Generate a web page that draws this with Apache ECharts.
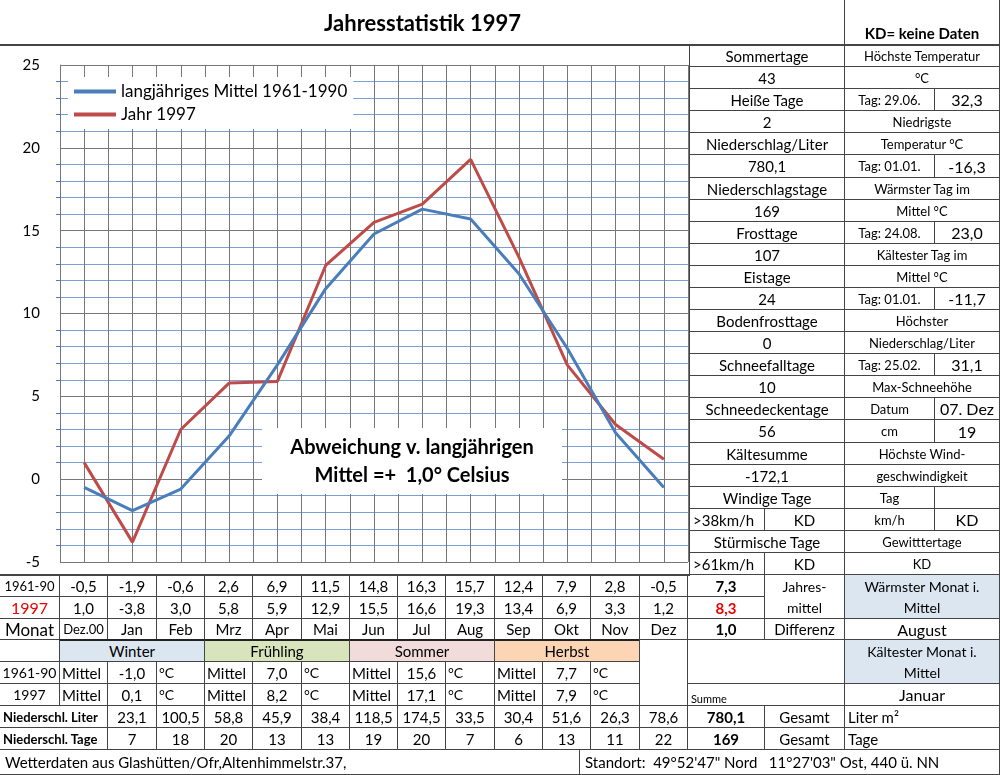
<!DOCTYPE html>
<html><head><meta charset="utf-8">
<script src="https://cdn.jsdelivr.net/npm/echarts@6/dist/echarts.min.js"></script>
<style>
body{margin:0;width:1000px;height:775px;position:relative;font-family:Lato,"Open Sans",sans-serif;background:#fff;overflow:hidden}
.c{position:absolute;box-sizing:border-box;border:1px solid #444;display:flex;align-items:center;justify-content:center;font-size:15px;color:#000;white-space:nowrap;overflow:hidden;margin:-1px 0 0 -1px}
#chart{position:absolute;left:0;top:45px;width:690px;height:531px}
</style></head><body>
<div id="chart"></div>
<script>
// Monatsmittel
var monate = ['Dez.00', 'Jan', 'Feb', 'Mrz', 'Apr', 'Mai', 'Jun', 'Jul', 'Aug', 'Sep', 'Okt', 'Nov', 'Dez'];
var mittel = [-0.5, -1.9, -0.6, 2.6, 6.9, 11.5, 14.8, 16.3, 15.7, 12.4, 7.9, 2.8, -0.5];
var jahr97 = [1.0, -3.8, 3.0, 5.8, 5.9, 12.9, 15.5, 16.6, 19.3, 13.4, 6.9, 3.3, 1.2];
var niederLiter = [23.1, 100.5, 58.8, 45.9, 38.4, 118.5, 174.5, 33.5, 30.4, 51.6, 26.3, 78.6];
var niederTage = [7, 18, 20, 13, 13, 19, 20, 7, 6, 13, 11, 22];
var jahreszeiten = ['Winter', 'Frühling', 'Sommer', 'Herbst'];
var zeitMittel = [-1.0, 7.0, 15.6, 7.7];
var zeitJahr = [0.1, 8.2, 17.1, 7.9];
var yTicks = [-5, 0, 5, 10, 15, 20, 25];

// rechte Tabelle: links | rechts, '|' trennt Zellen
var rechts = [
    ['Sommertage', 'Höchste Temperatur'], ['43', '°C'], ['Heiße Tage', 'Tag: 29.06.|32,3'], ['2', 'Niedrigste'],
    ['Niederschlag/Liter', 'Temperatur °C'], ['780,1', 'Tag: 01.01.|-16,3'], ['Niederschlagstage', 'Wärmster Tag im'],
    ['169', 'Mittel °C'], ['Frosttage', 'Tag: 24.08.|23,0'], ['107', 'Kältester Tag im'], ['Eistage', 'Mittel °C'],
    ['24', 'Tag: 01.01.|-11,7'], ['Bodenfrosttage', 'Höchster'], ['0', 'Niederschlag/Liter'], ['Schneefalltage', 'Tag: 25.02.|31,1'],
    ['10', 'Max-Schneehöhe'], ['Schneedeckentage', 'Datum|07. Dez'], ['56', 'cm|19'], ['Kältesumme', 'Höchste Wind-'],
    ['-172,1', 'geschwindigkeit'], ['Windige Tage', 'Tag|'], ['>38km/h|KD', 'km/h|KD'], ['Stürmische Tage', 'Gewitttertage'], ['>61km/h|KD', 'KD']
];

function fmt(v) { return v.toFixed(1).replace('.', ','); }

function cell(x, y, w, h, text, css) {
    var d = document.createElement('div');
    d.className = 'c';
    d.style.cssText = 'left:' + x + 'px;top:' + y + 'px;width:' + (w + 1) + 'px;height:' + (h + 1) + 'px;' + (css || '');
    d.textContent = text;
    document.body.appendChild(d);
    return d;
}

// Rahmen und Titel
cell(0, 0, 845, 46, 'Jahresstatistik 1997', 'font-size:22px;font-weight:bold;border-width:1px 0 2px 1px');
cell(845, 0, 155, 46, 'KD= keine Daten', 'font-size:15px;font-weight:bold;align-items:flex-end;padding-bottom:2px;border-bottom:2px solid #444');

// rechte Tabelle
var rh = (575 - 45) / 24;
rechts.forEach(function (r, i) {
    var y = Math.round(45 + i * rh), h = Math.round(45 + (i + 1) * rh) - y;
    var l = r[0].split('|');
    if (l.length > 1) {
        cell(690, y, 75, h, l[0], 'justify-content:flex-start;padding-left:3px');
        cell(765, y, 80, h, l[1]);
    } else {
        cell(690, y, 155, h, l[0]);
    }
    var p = r[1].split('|');
    if (p.length > 1) {
        cell(845, y, 90, h, p[0], 'font-size:13px;border-right:1px dashed #444');
        cell(935, y, 65, h, p[1], 'font-size:16px');
    } else {
        cell(845, y, 155, h, p[0], 'font-size:13px');
    }
});

// untere Tabelle
var cx = [0];
for (var i = 0; i <= 13; i++) cx.push(60 + i * 48.3);
var ry = [575, 597, 619, 640, 662, 684, 706, 728, 750, 775];
function colCell(row, a, b, text, css) {
    return cell(Math.round(cx[a]), ry[row], Math.round(cx[b]) - Math.round(cx[a]), ry[row + 1] - ry[row], text, css);
}

colCell(0, 0, 1, '1961-90', 'font-size:13px');
colCell(1, 0, 1, '1997', 'color:#e00;font-size:16px');
colCell(2, 0, 1, 'Monat', 'font-size:17px');
for (var m = 0; m < 13; m++) {
    colCell(0, m + 1, m + 2, fmt(mittel[m]));
    colCell(1, m + 1, m + 2, fmt(jahr97[m]));
    colCell(2, m + 1, m + 2, monate[m], m === 0 ? 'font-size:13px' : '');
}
cell(688, 575, 77, 22, '7,3', 'font-weight:bold');
cell(688, 597, 77, 22, '8,3', 'font-weight:bold;color:#e00');
cell(688, 619, 77, 21, '1,0', 'font-weight:bold');
cell(765, 575, 80, 44, 'Jahres-\nmittel', 'white-space:pre;text-align:center;font-size:14px;line-height:21px');
cell(765, 619, 80, 21, 'Differenz');
cell(845, 575, 155, 44, 'Wärmster Monat i.\nMittel', 'white-space:pre;text-align:center;font-size:14px;line-height:21px;background:#dce6f1');
cell(845, 619, 155, 21, 'August', 'font-size:16px');

var farben = ['#dce6f1', '#d8e4bc', '#f2dcdb', '#fcd5b4'];
cell(0, 640, 60, 66, '');
jahreszeiten.forEach(function (z, k) {
    var a = 1 + k * 3;
    colCell(3, a, a + 3, z, 'background:' + farben[k] + ';border-top:2px solid #222');
    [[4, zeitMittel], [5, zeitJahr]].forEach(function (p) {
        colCell(p[0], a, a + 1, 'Mittel', 'justify-content:flex-start;padding-left:2px');
        colCell(p[0], a + 1, a + 2, fmt(p[1][k]));
        colCell(p[0], a + 2, a + 3, '°C', 'justify-content:flex-start;padding-left:2px;font-size:14px');
    });
});
colCell(4, 0, 1, '1961-90', 'font-size:14px');
colCell(5, 0, 1, '1997', 'font-size:14px');
cell(Math.round(cx[13]), 640, 688 - Math.round(cx[13]), 66, '');
cell(688, 640, 157, 44, '');
cell(688, 684, 157, 22, 'Summe', 'font-size:11px;justify-content:flex-start;padding-left:3px;align-items:flex-end');
cell(845, 640, 155, 44, 'Kältester Monat i.\nMittel', 'white-space:pre;text-align:center;font-size:14px;line-height:21px;background:#dce6f1');
cell(845, 684, 155, 22, 'Januar', 'font-size:16px');

colCell(6, 0, 2, 'Niederschl. Liter', 'font-size:13px;font-weight:bold;justify-content:flex-start;padding-left:3px');
colCell(7, 0, 2, 'Niederschl. Tage', 'font-size:13px;font-weight:bold;justify-content:flex-start;padding-left:3px');
for (var n = 0; n < 12; n++) {
    colCell(6, n + 2, n + 3, fmt(niederLiter[n]));
    colCell(7, n + 2, n + 3, String(niederTage[n]));
}
cell(688, 706, 77, 22, '780,1', 'font-weight:bold');
cell(688, 728, 77, 22, '169', 'font-weight:bold');
cell(765, 706, 80, 22, 'Gesamt');
cell(765, 728, 80, 22, 'Gesamt');
cell(845, 706, 155, 22, 'Liter m²', 'justify-content:flex-start;padding-left:3px');
cell(845, 728, 155, 22, 'Tage', 'justify-content:flex-start;padding-left:3px');
cell(0, 750, 580, 25, 'Wetterdaten aus Glashütten/Ofr,Altenhimmelstr.37,', 'justify-content:flex-start;padding-left:5px');
cell(580, 750, 420, 25, 'Standort:  49°52\'47" Nord   11°27\'03" Ost, 440 ü. NN', 'justify-content:flex-start;padding-left:5px;white-space:pre');
cell(0, 45, 690, 531, '', 'background:transparent;pointer-events:none');

// Diagramm
function punkte(arr) {
    return arr.map(function (v, i) { return [i + 0.5, v]; });
}
var chart = echarts.init(document.getElementById('chart'));
chart.setOption({
    animation: false,
    textStyle: { fontFamily: 'Lato' },
    grid: { left: 60, right: 2, top: 20, bottom: 14 },
    legend: {
        left: 68, top: 32, orient: 'vertical', itemGap: 6, itemWidth: 42, itemHeight: 4,
        backgroundColor: '#fff', padding: [6, 6, 6, 6],
        textStyle: { fontSize: 17, color: '#000', fontFamily: 'Lato' },
        data: [{ name: 'langjähriges Mittel 1961-1990', icon: 'rect' }, { name: 'Jahr 1997', icon: 'rect' }]
    },
    xAxis: {
        type: 'value', min: 0, max: 13, interval: 0.5,
        axisLabel: { show: false }, axisTick: { show: false },
        axisLine: { show: false },
        splitLine: { show: true, lineStyle: { color: '#777', width: 1 } }
    },
    yAxis: {
        type: 'value', min: yTicks[0], max: yTicks[yTicks.length - 1], interval: 5,
        axisLabel: { fontSize: 15, color: '#000', margin: 20 },
        axisLine: { show: true, lineStyle: { color: '#777' } },
        axisTick: { show: false },
        minorTick: { show: true, splitNumber: 5, length: 4, lineStyle: { color: '#4a7ebb' } },
        splitLine: { lineStyle: { color: '#777' } },
        minorSplitLine: { show: true, lineStyle: { color: '#7ea0d0', width: 1 } }
    },
    series: [
        { name: 'langjähriges Mittel 1961-1990', type: 'line', data: punkte(mittel), symbol: 'none', lineStyle: { color: '#4a7ebb', width: 3 }, itemStyle: { color: '#4a7ebb' }, z: 3 },
        { name: 'Jahr 1997', type: 'line', data: punkte(jahr97), symbol: 'none', lineStyle: { color: '#be4b48', width: 3 }, itemStyle: { color: '#be4b48' }, z: 2 }
    ],
    graphic: [
        { type: 'rect', z: 100, shape: { x: 262, y: 383, width: 300, height: 66 }, style: { fill: '#fff' } },
        { type: 'text', z: 101, x: 412, y: 389, style: { text: 'Abweichung v. langjährigen\nMittel =+  1,0° Celsius', fill: '#000', font: 'bold 20px Lato', align: 'center', verticalAlign: 'top', lineHeight: 28 } }
    ]
});
</script>
</body></html>
